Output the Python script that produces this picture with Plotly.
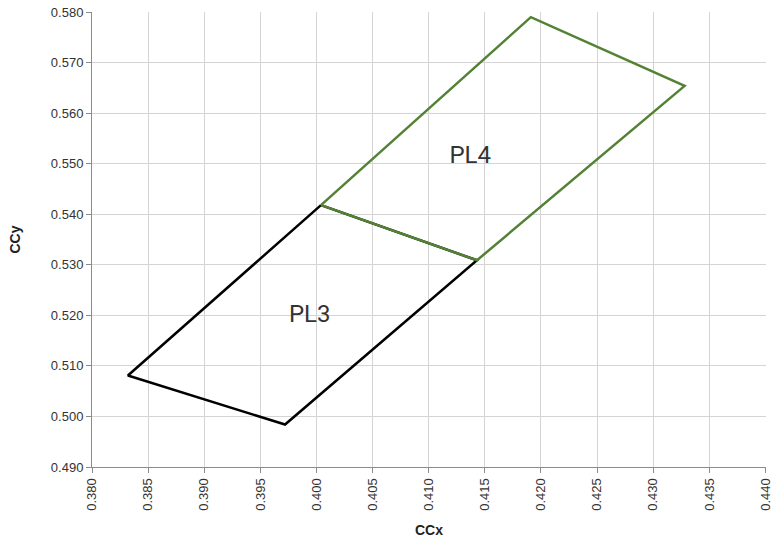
import plotly.graph_objects as go

# PL3 polygon vertices
pl3_x = [0.4004, 0.3832, 0.3972, 0.4143, 0.4004]
pl3_y = [0.5418, 0.5081, 0.4984, 0.5309, 0.5418]
# PL4 polygon vertices
pl4_x = [0.4004, 0.4191, 0.4328, 0.4143, 0.4004]
pl4_y = [0.5418, 0.5790, 0.5654, 0.5309, 0.5418]

labels = ["PL3", "PL4"]
label_x = [0.3994, 0.4137]
label_y = [0.5198, 0.5513]

x_ticks = [0.380, 0.385, 0.390, 0.395, 0.400, 0.405, 0.410, 0.415, 0.420, 0.425, 0.430, 0.435, 0.440]
y_ticks = [0.490, 0.500, 0.510, 0.520, 0.530, 0.540, 0.550, 0.560, 0.570, 0.580]

fig = go.Figure()
fig.add_trace(go.Scatter(x=pl3_x, y=pl3_y, mode="lines",
                         line=dict(color="#000000", width=2.5), showlegend=False))
fig.add_trace(go.Scatter(x=pl4_x, y=pl4_y, mode="lines",
                         line=dict(color="#548235", width=2.5), showlegend=False))
fig.add_trace(go.Scatter(x=label_x, y=label_y, mode="text", text=labels,
                         textfont=dict(family="Roboto", size=24, color="#333333"),
                         showlegend=False))

axis_common = dict(showgrid=True, gridcolor="#d4d4d4", gridwidth=1,
                   showline=True, linecolor="#8c8c8c", linewidth=1,
                   ticks="outside", ticklen=5, tickcolor="#8c8c8c",
                   tickfont=dict(family="Liberation Sans, Arial", size=13, color="#333333"),
                   zeroline=False, automargin=False, ticklabeloverflow="allow")

fig.update_xaxes(range=[0.380, 0.44005], tickvals=x_ticks,
                 ticktext=[f"{v:.3f}" for v in x_ticks], tickangle=-90,
                 title=dict(text="<b>CCx</b>", font=dict(family="Liberation Sans, Arial", size=14, color="#222222"), standoff=15),
                 **axis_common)
fig.update_yaxes(range=[0.490, 0.58002], tickvals=y_ticks,
                 ticktext=[f"{v:.3f}" for v in y_ticks],
                 title=dict(text="<b>CCy</b>", font=dict(family="Liberation Sans, Arial", size=14, color="#222222"), standoff=26),
                 **axis_common)

fig.update_layout(width=772, height=543,
                  margin=dict(l=92, r=6, t=12, b=76, autoexpand=False),
                  plot_bgcolor="white", paper_bgcolor="white")

fig.write_html("out.html", config={"displayModeBar": False})

# remove default page margin so the figure sits at the window origin
with open("out.html", "r", encoding="utf-8") as f:
    html = f.read()
html = html.replace("<head>", "<head><style>html,body{margin:0;padding:0;overflow:hidden;}</style>", 1)
with open("out.html", "w", encoding="utf-8") as f:
    f.write(html)
